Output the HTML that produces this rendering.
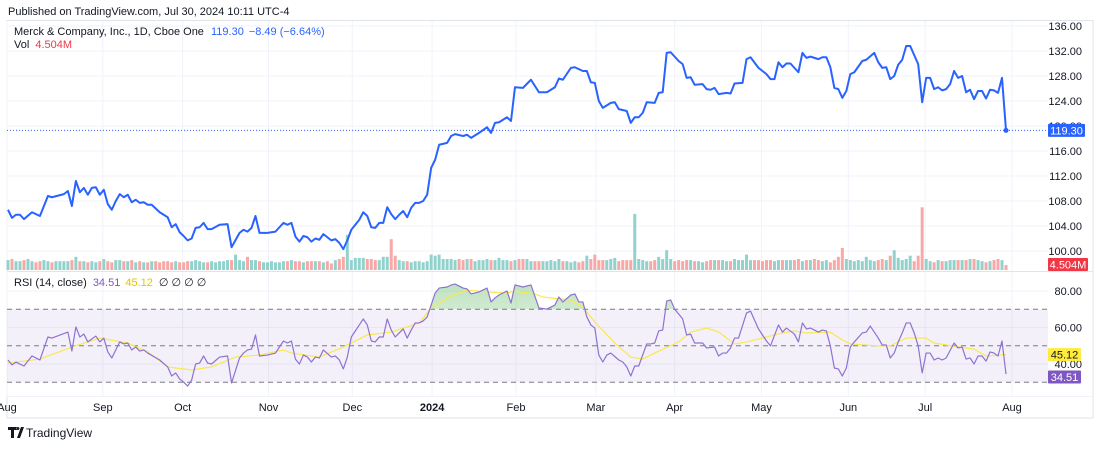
<!DOCTYPE html>
<html><head><meta charset="utf-8">
<style>
html,body{margin:0;padding:0;background:#fff;}
body{width:1100px;height:445px;overflow:hidden;font-family:"Liberation Sans",sans-serif;}
svg text{font-family:"Liberation Sans",sans-serif;}
</style></head>
<body>
<svg id="chart" width="1100" height="445" viewBox="0 0 1100 445" xmlns="http://www.w3.org/2000/svg">
<defs>
<linearGradient id="gfill" x1="0" y1="0" x2="0" y2="1">
<stop offset="0" stop-color="#4caf50" stop-opacity="0.35"/>
<stop offset="1" stop-color="#4caf50" stop-opacity="0.02"/>
</linearGradient>
<clipPath id="rsiAbove"><rect x="0" y="272" width="1048" height="37.3"/></clipPath>
</defs>
<text x="8" y="15" font-size="11" fill="#131722">Published on TradingView.com, Jul 30, 2024 10:11 UTC-4</text>
<rect x="7" y="20.5" width="1086" height="397.5" fill="none" stroke="#e0e3eb" stroke-width="1"/>
<g id="grid"></g>
<g id="volume"></g>
<g id="price"></g>
<g id="rsi"></g>
<g id="axes"></g>
<text x="14" y="35" font-size="11" fill="#131722">Merck &amp; Company, Inc., 1D, Cboe One <tspan fill="#2962ff" dx="4">119.30</tspan><tspan fill="#2962ff" dx="5">−8.49 (−6.64%)</tspan></text>
<text x="14" y="48" font-size="11" fill="#131722">Vol <tspan fill="#f23645" dx="3">4.504M</tspan></text>
<text x="14" y="286" font-size="11" fill="#131722">RSI (14, close) <tspan fill="#7e57c2" dx="3">34.51</tspan><tspan fill="#e3c600" dx="5">45.12</tspan><tspan dx="6">∅  ∅  ∅  ∅</tspan></text>
<g>
<path d="M8 427h9v3h-3v8h-3v-8h-3z M17 438l4-11h3l-4 11z M18 427a1.5 1.5 0 1 0 0.01 0z" fill="#131722"/>
<text x="26" y="437" font-size="12" fill="#131722">TradingView</text>
</g>
</svg>
<script>
const priceDays=[0,1,2,3,4,6,8,10,11,14,15,16,17,18,19,20,21,22,23,24,25,26,27,28,29,30,31,32,33,34,35,36,38,40,41,42,43,44,45,46,47,48,49,50,51,53,55,56,58,59,60,61,62,63,65,67,69,70,71,72,73,74,75,76,77,78,79,81,82,83,84,85,86,88,89,90,91,92,93,94,95,96,97,98,99,100,101,102,103,104,105,106,107,108,110,111,112,114,115,116,118,120,121,122,123,125,126,127,129,131,133,135,137,138,139,141,142,144,145,146,147,148,149,151,152,153,155,156,157,158,159,160,162,163,164,165,166,168,169,170,171,172,174,175,176,177,178,180,181,182,184,185,186,188,189,190,191,192,193,194,195,196,198,199,200,201,203,204,205,206,207,208,209,210,211,212,214,215,217,218,219,220,221,222,223,224,225,226,228,229,230,231,232,233,234,235,236,237,238,239,240,241,242,243,244,245,246,247,248,249,250];
const closes=[106.6,105.3,105.8,105.8,105.1,106.2,105.6,108.8,108.6,109.1,109.6,107.2,111.2,109.4,110.1,109.0,110.1,110.2,109.0,109.8,107.5,106.6,108.0,109.1,108.6,109.0,107.8,108.2,107.7,107.8,107.4,107.4,106.2,105.4,103.8,104.3,103.0,102.4,101.7,102.0,103.7,103.8,104.5,103.5,103.5,104.2,104.3,100.6,102.9,103.4,103.1,103.7,105.6,102.9,102.9,103.1,104.5,104.2,104.5,102.3,101.5,102.4,102.2,101.5,102.0,101.8,102.7,101.7,101.9,101.3,100.3,101.7,103.4,105.0,106.2,105.6,103.8,103.7,104.5,104.5,107.0,105.9,105.1,105.8,106.4,105.4,106.9,107.7,107.7,108.0,109.0,113.3,114.6,117.0,117.3,118.4,118.7,118.4,118.6,118.1,118.9,119.8,118.9,120.5,120.6,121.4,120.8,126.2,126.1,127.4,125.4,125.4,126.2,127.6,127.4,129.3,129.4,128.8,128.8,127.0,126.9,124.0,122.9,123.7,123.8,122.7,122.4,120.5,121.4,121.4,122.1,123.8,123.7,125.3,125.4,131.7,131.8,130.4,129.9,127.7,127.8,126.6,126.7,125.9,125.8,126.1,125.1,125.3,125.2,126.8,126.9,130.7,131.0,129.3,128.8,128.3,127.5,127.5,130.2,129.4,130.0,130.0,128.6,131.7,130.9,131.1,130.7,131.0,131.0,129.4,126.1,125.9,124.5,125.6,128.3,128.6,130.4,130.6,131.7,130.2,129.3,129.4,127.5,128.0,129.8,130.6,132.8,132.8,129.9,123.8,127.7,127.7,125.9,126.2,125.7,125.9,126.7,128.8,127.7,128.0,125.4,125.8,124.3,125.6,125.6,124.4,125.8,125.7,125.3,127.7,119.3];
const volumes=[9,10,8,8,9,10,8,7,8,9, 8,7,8,8,8,8,9,12,8,8, 7,8,7,8,10,8,7,9,9,8, 8,9,7,8,7,7,8,8,7,8, 8,7,8,7,7,8,8,9,8,7, 7,8,7,8,8,9,9,14,9,8, 12,9,9,8,7,7,8,7,7,8, 8,9,8,8,7,8,8,8,8,7, 8,6,9,10,12,32,9,11,11,11, 10,10,9,9,12,12,28,13,9,8, 8,7,8,8,7,8,14,13,14,10, 10,10,9,10,9,10,10,8,9,9, 10,9,9,11,9,9,8,9,10,10, 10,8,8,8,8,8,9,8,10,8, 8,7,8,7,8,13,10,14,9,9, 9,10,11,8,9,9,9,51,10,9, 8,8,9,12,10,18,10,8,9,8, 9,9,8,8,7,8,9,9,9,9, 8,8,10,9,9,14,9,9,9,8, 9,9,8,9,9,9,9,9,10,8, 9,9,10,9,8,9,7,9,12,20, 10,9,8,9,8,12,9,8,9,10, 9,13,18,11,9,10,13,8,13,57, 10,8,7,9,8,8,9,9,9,9, 9,10,10,9,8,7,8,9,10,9, 4.5];
const rsiDays=[0,1,2,4,6,8,10,11,15,16,17,18,19,20,22,23,24,25,26,28,29,30,31,32,33,34,35,38,40,41,42,43,44,45,46,47,48,49,50,51,53,55,56,58,59,60,61,62,63,65,67,69,70,71,72,73,74,75,76,77,78,79,81,82,83,84,85,86,88,89,90,91,92,93,94,95,96,97,98,99,100,101,102,103,104,105,107,108,110,111,112,114,115,116,118,120,121,122,123,125,126,127,129,131,133,135,137,138,139,141,142,143,144,145,146,147,148,149,150,151,153,154,155,156,157,158,160,161,162,163,164,165,166,167,169,170,171,172,174,175,177,178,179,180,181,182,183,185,186,188,189,190,191,193,194,195,197,198,199,200,201,203,204,205,206,207,208,209,210,211,212,214,215,216,218,219,220,221,222,223,224,225,226,227,228,229,230,231,232,233,234,235,237,238,239,240,241,242,243,244,245,246,247,248,249,250];
const rsiValues=[42.2,39.5,41,38.9,44.4,42.2,54.8,54.2,57.5,47.1,60.3,54.8,56.4,52.1,55.3,52.1,54.2,46.6,43.3,52.1,51,51.5,47.7,49.3,47.1,47.7,46,42.2,38.4,33.4,35.1,31.8,30.1,27.9,31.2,40,40.5,44.4,40.5,40,43.8,44.4,29.6,43.3,46,47.7,48.2,55.9,44.4,44.9,46,52.6,51.5,52.6,42.7,40,44.9,43.8,41.1,43.8,43.3,47.7,43.8,44.4,42.2,37.3,43.8,54.8,61.4,64.7,61.4,52.6,52.1,54.8,54.8,64.7,58.6,54.8,57,59.2,54.2,58.6,62.5,62.5,63.6,65.8,78.9,81.6,82.2,83.3,83.8,81.6,81.1,78.4,79.5,81.6,74,76.2,77.8,80,73.4,83.3,82.2,83.3,70.7,70.1,72.3,76.7,74,77.8,78.4,74,74,65.8,61.4,59.7,44.9,41.1,44.9,46,42.2,41.1,38.4,33.4,38.9,38.9,51,51,51.5,58.1,58.6,74.5,75.1,70.1,64.7,55.9,56.4,51.5,51.5,48.8,49.3,44.4,46,46,48.8,54.2,54.2,67.9,69,59.2,55.9,52.6,49.9,61.4,57.5,59.7,56.4,52.1,62.5,59.2,59.7,57.5,58.6,58.1,49.9,37.8,37.3,33.4,37.8,49.3,52.1,57,57.5,60.8,54.2,50.4,50.4,43.3,46,52.1,57,62.5,62.5,57,49.9,35.1,46,46,42.2,43.3,42.2,43.3,51.5,48.8,49.3,42.7,43.3,40,44.4,44.4,41.6,46.6,46,44.4,52.6,34.51];
const maDays=[0,8,16,23,30,35,40,46,51,57,63,69,71,78,84,90,96,103,106,111,115,120,125,127,132,134,141,144,147,152,156,159,162,168,171,175,178,182,185,190,194,197,200,206,209,211,218,221,225,230,232,238,242,245,250];
const maValues=[40.5,42.7,49.3,54.2,51.5,46.6,38.4,36.7,38.4,43.8,44.9,47.7,46,43.8,49.3,55.9,57.5,62.5,70.7,77.3,80.5,79.5,78.9,80,78.4,76.7,75,71.2,63,51.5,43.8,42.7,46,52.1,57.5,59.7,57.5,51,52.1,54.8,57,58.1,57,57.5,53.2,51,49.9,49.9,54.2,54.2,51.5,49.3,48.2,44.4,45.12];
const priceTicks=[100,104,108,112,116,120,124,128,132,136];
const rsiTicks=[80,60,40];
const rsiBands=[70,50,30];
const monthLabels=["Aug","Sep","Oct","Nov","Dec","2024","Feb","Mar","Apr","May","Jun","Jul","Aug"];
const monthDays=[-0.25,23.75,43.75,65.25,86.25,106.25,127.25,147.25,167,188.75,210.5,229.75,251.5];

const NS="http://www.w3.org/2000/svg";
const X=d=>8+d*3.992;
const YP=p=>251-(p-100)*6.25;
const YR=r=>291+(80-r)*1.825;
const YV=v=>270-v*1.1;
function mk(tag,attrs,parent){const e=document.createElementNS(NS,tag);for(const k in attrs)e.setAttribute(k,attrs[k]);parent.appendChild(e);return e;}
const grid=document.getElementById('grid'),vol=document.getElementById('volume'),pr=document.getElementById('price'),rs=document.getElementById('rsi'),ax=document.getElementById('axes');

priceTicks.forEach(t=>{const l=mk('line',{x1:7,x2:1048,y1:YP(t),y2:YP(t),stroke:'#f0f3fa'},grid);


const tx=mk('text',{x:1082,y:YP(t)+4,'font-size':11,fill:'#131722','text-anchor':'end'},ax);tx.textContent=t.toFixed(2);

});
rsiTicks.forEach(t=>{const l=mk('line',{x1:7,x2:1048,y1:YR(t),y2:YR(t),stroke:'#f0f3fa'},grid);


const tx=mk('text',{x:1082,y:YR(t)+4,'font-size':11,fill:'#131722','text-anchor':'end'},ax);tx.textContent=t.toFixed(2);

});
monthLabels.forEach((m,i)=>{const x=X(monthDays[i]);
const l=mk('line',{x1:x,x2:x,y1:21,y2:396,stroke:'#f0f3fa'},grid);


const tx=mk('text',{x:x,y:411,'font-size':11,fill:'#131722','text-anchor':'middle','font-weight':m==='2024'?'bold':'normal'},ax);tx.textContent=m;

});
const sep=mk('line',{x1:7,x2:1093,y1:271.5,y2:271.5,stroke:'#e0e3eb'},ax);


const sep2=mk('line',{x1:7,x2:1093,y1:396.5,y2:396.5,stroke:'#f0f3fa'},ax);



function closeAt(d){for(let i=1;i<priceDays.length;i++){if(priceDays[i]>=d){const a=priceDays[i-1],b=priceDays[i];return closes[i-1]+(closes[i]-closes[i-1])*(d-a)/(b-a||1);}}return closes[closes.length-1];}
volumes.forEach((v,d)=>{const up=d===0?true:closeAt(d)>=closeAt(d-1);
const r=mk('rect',{x:X(d)-1.5,y:YV(v),width:3,height:v*1.1,fill:up?'#92d2cc':'#f7a9a7'},vol);

});

const last=closes[closes.length-1];
const dl=mk('line',{x1:7,x2:1048,y1:YP(last),y2:YP(last),stroke:'#2962ff','stroke-width':1,'stroke-dasharray':'1 2'},pr);


const pl=mk('polyline',{points:priceDays.map((d,i)=>X(d)+','+YP(closes[i])).join(' '),fill:'none',stroke:'#2962ff','stroke-width':2,'stroke-linejoin':'round'},pr);


const dot=mk('circle',{cx:X(priceDays[priceDays.length-1]),cy:YP(last),r:2.5,fill:'#2962ff'},pr);



const band=mk('rect',{x:7,y:YR(70),width:1041,height:YR(30)-YR(70),fill:'#7e57c2','fill-opacity':0.09},rs);


rsiBands.forEach(b=>{const l=mk('line',{x1:7,x2:1048,y1:YR(b),y2:YR(b),stroke:'#787b86','stroke-dasharray':'5 4','stroke-width':1},rs);

});
const pts=rsiDays.map((d,i)=>X(d)+','+YR(rsiValues[i]));
const area=mk('polygon',{points:X(rsiDays[0])+','+YR(70)+' '+pts.join(' ')+' '+X(rsiDays[rsiDays.length-1])+','+YR(70),fill:'url(#gfill)','clip-path':'url(#rsiAbove)'},rs);


const ma=mk('polyline',{points:maDays.map((d,i)=>X(d)+','+YR(maValues[i])).join(' '),fill:'none',stroke:'#fbe74f','stroke-width':1.2},rs);


const rl=mk('polyline',{points:pts.join(' '),fill:'none',stroke:'#8e72d0','stroke-width':1.2,'stroke-linejoin':'round'},rs);



function badge(name,y,txt,bg,fg,w){const g=mk('g',{},ax);


mk('rect',{x:1048,y:y-6.5,width:w,height:13,fill:bg,rx:1},g);
const t=mk('text',{x:1048+w/2,y:y+4,'font-size':11,fill:fg,'text-anchor':'middle'},g);t.textContent=txt;}
badge('last-price-badge',YP(last),last.toFixed(2),'#2962ff','#fff',37);
badge('volume-badge',264.5,'4.504M','#f23645','#fff',40);
badge('rsi-ma-badge',YR(maValues[maValues.length-1]),maValues[maValues.length-1].toFixed(2),'#ffeb3b','#131722',33);
badge('rsi-value-badge',YR(rsiValues[rsiValues.length-1])+3,rsiValues[rsiValues.length-1].toFixed(2),'#7e57c2','#fff',33);
</script>
</body></html>
